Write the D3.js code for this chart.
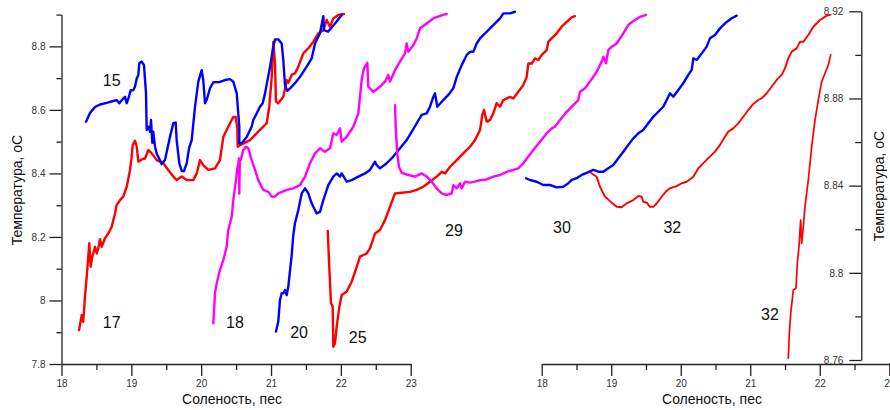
<!DOCTYPE html>
<html>
<head>
<meta charset="utf-8">
<script src="https://cdn.jsdelivr.net/npm/d3@7"></script>
<style>
  html, body { margin: 0; padding: 0; background: #fff; }
  svg { display: block; font-family: Arial, "Liberation Sans", sans-serif; }
  .tick text { fill: #333; font-size: 10px; }
  .tick line, .domain { stroke: #222; stroke-width: 1.3; }
</style>
</head>
<body>
<svg id="chart" width="890" height="410"></svg>
<script>
// T-S profiles, salinity (psu) vs temperature (°C), pairs [S, T]

// left panel profiles
const st15 = [[18.351,8.563],[18.408,8.590],[18.480,8.609],[18.551,8.617],[18.647,8.622],[18.742,8.628],[18.790,8.631],[18.828,8.621],[18.866,8.631],[18.909,8.641],[18.934,8.621],[18.959,8.637],[18.991,8.662],[19.028,8.662],[19.052,8.673],[19.077,8.699],[19.100,8.710],[19.114,8.747],[19.148,8.752],[19.181,8.741],[19.210,8.653],[19.220,8.537],[19.249,8.547],[19.267,8.531],[19.282,8.568],[19.300,8.496],[19.314,8.531],[19.339,8.484],[19.363,8.463],[19.435,8.430],[19.482,8.442],[19.553,8.515],[19.601,8.558],[19.635,8.560],[19.649,8.505],[19.687,8.432],[19.721,8.408],[19.754,8.407],[19.793,8.432],[19.826,8.479],[19.864,8.505],[19.912,8.610],[19.959,8.689],[20.007,8.725],[20.030,8.694],[20.055,8.621],[20.079,8.631],[20.126,8.668],[20.174,8.687],[20.269,8.688],[20.341,8.694],[20.413,8.697],[20.460,8.689],[20.509,8.652],[20.546,8.547],[20.546,8.495],[20.580,8.495],[20.652,8.515],[20.723,8.547],[20.746,8.568],[20.795,8.589],[20.842,8.610],[20.881,8.621],[20.914,8.652],[20.986,8.736],[21.033,8.799],[21.057,8.822],[21.104,8.822],[21.153,8.809],[21.176,8.757],[21.200,8.678],[21.233,8.660],[21.272,8.668],[21.343,8.684],[21.415,8.704],[21.511,8.736],[21.582,8.762],[21.630,8.809],[21.701,8.841],[21.749,8.895],[21.759,8.851],[21.816,8.846],[21.916,8.872],[22.012,8.899]];

const st17 = [[18.251,7.907],[18.265,7.923],[18.289,7.954],[18.312,7.933],[18.336,8.012],[18.369,8.096],[18.398,8.180],[18.418,8.106],[18.437,8.134],[18.455,8.148],[18.480,8.169],[18.504,8.148],[18.527,8.164],[18.551,8.193],[18.576,8.169],[18.623,8.196],[18.670,8.211],[18.719,8.232],[18.766,8.274],[18.790,8.300],[18.838,8.316],[18.885,8.327],[18.934,8.358],[18.981,8.411],[19.005,8.453],[19.019,8.489],[19.052,8.503],[19.077,8.484],[19.100,8.437],[19.148,8.444],[19.196,8.447],[19.243,8.474],[19.292,8.463],[19.363,8.442],[19.458,8.432],[19.529,8.411],[19.601,8.390],[19.649,8.379],[19.721,8.390],[19.793,8.379],[19.887,8.379],[19.936,8.400],[19.983,8.442],[20.030,8.426],[20.102,8.411],[20.198,8.416],[20.269,8.442],[20.317,8.515],[20.388,8.547],[20.460,8.578],[20.494,8.578],[20.517,8.542],[20.523,8.484],[20.556,8.489],[20.699,8.505],[20.842,8.537],[20.938,8.558],[20.975,8.610],[21.010,8.704],[21.033,8.814],[21.057,8.747],[21.071,8.626],[21.104,8.621],[21.176,8.641],[21.225,8.694],[21.247,8.685],[21.296,8.710],[21.343,8.715],[21.391,8.736],[21.462,8.778],[21.534,8.794],[21.605,8.814],[21.677,8.841],[21.749,8.851],[21.797,8.883],[21.845,8.862],[21.892,8.888],[21.963,8.899],[22.045,8.902]];

const st18 = [[20.174,7.928],[20.198,8.023],[20.222,8.054],[20.269,8.096],[20.317,8.127],[20.365,8.169],[20.388,8.222],[20.437,8.264],[20.460,8.316],[20.499,8.379],[20.517,8.416],[20.532,8.432],[20.542,8.447],[20.546,8.337],[20.553,8.442],[20.566,8.442],[20.603,8.474],[20.642,8.484],[20.675,8.479],[20.723,8.442],[20.771,8.411],[20.818,8.379],[20.889,8.348],[20.961,8.342],[21.010,8.327],[21.057,8.327],[21.104,8.337],[21.225,8.348],[21.319,8.353],[21.415,8.363],[21.487,8.390],[21.558,8.432],[21.630,8.463],[21.701,8.479],[21.773,8.468],[21.845,8.479],[21.892,8.526],[21.940,8.521],[21.988,8.542],[22.012,8.500],[22.084,8.515],[22.178,8.547],[22.250,8.589],[22.298,8.694],[22.331,8.731],[22.379,8.748],[22.393,8.673],[22.465,8.657],[22.560,8.673],[22.632,8.689],[22.679,8.710],[22.704,8.689],[22.775,8.725],[22.847,8.752],[22.918,8.778],[22.943,8.809],[22.966,8.783],[23.037,8.804],[23.086,8.825],[23.133,8.857],[23.229,8.872],[23.324,8.888],[23.420,8.896],[23.515,8.902]];

const st20 = [[21.071,7.902],[21.104,7.933],[21.128,8.001],[21.153,8.023],[21.176,8.023],[21.200,8.033],[21.225,8.017],[21.247,8.043],[21.296,8.143],[21.319,8.206],[21.343,8.243],[21.391,8.285],[21.439,8.337],[21.487,8.353],[21.534,8.337],[21.582,8.306],[21.654,8.274],[21.701,8.279],[21.749,8.316],[21.820,8.363],[21.892,8.390],[21.940,8.400],[21.988,8.390],[22.012,8.400],[22.084,8.374],[22.155,8.379],[22.250,8.390],[22.346,8.400],[22.417,8.411],[22.489,8.437],[22.513,8.426],[22.560,8.416],[22.656,8.432],[22.751,8.453],[22.847,8.479],[22.943,8.505],[23.014,8.531],[23.086,8.558],[23.157,8.584],[23.229,8.589],[23.276,8.610],[23.324,8.641],[23.348,8.652],[23.381,8.610],[23.467,8.631],[23.538,8.647],[23.610,8.668],[23.659,8.704],[23.730,8.741],[23.802,8.773],[23.849,8.783],[23.897,8.783],[23.945,8.809],[23.993,8.825],[24.088,8.846],[24.183,8.867],[24.279,8.888],[24.327,8.904],[24.422,8.904],[24.493,8.909]];

const st25 = [[21.812,8.219],[21.834,8.106],[21.859,7.991],[21.883,7.980],[21.892,7.854],[21.916,7.865],[21.940,7.917],[21.978,7.980],[22.012,8.017],[22.084,8.028],[22.155,8.059],[22.227,8.106],[22.274,8.138],[22.370,8.148],[22.417,8.164],[22.489,8.211],[22.560,8.222],[22.632,8.253],[22.704,8.295],[22.775,8.337],[22.871,8.339],[22.990,8.342],[23.086,8.348],[23.180,8.358],[23.276,8.374],[23.372,8.390],[23.444,8.405],[23.491,8.400],[23.563,8.421],[23.659,8.442],[23.753,8.463],[23.849,8.484],[23.921,8.505],[23.993,8.537],[24.025,8.584],[24.050,8.600],[24.088,8.563],[24.135,8.568],[24.183,8.589],[24.231,8.621],[24.279,8.610],[24.326,8.631],[24.422,8.641],[24.469,8.636],[24.541,8.657],[24.612,8.678],[24.661,8.704],[24.685,8.746],[24.733,8.746],[24.780,8.762],[24.827,8.757],[24.876,8.773],[24.947,8.788],[24.970,8.814],[25.019,8.825],[25.090,8.841],[25.162,8.862],[25.234,8.877],[25.305,8.891],[25.352,8.895]];

const st29 = [[22.775,8.615],[22.790,8.526],[22.808,8.463],[22.832,8.421],[22.871,8.402],[22.966,8.395],[23.062,8.390],[23.157,8.400],[23.229,8.390],[23.301,8.374],[23.372,8.353],[23.444,8.337],[23.515,8.332],[23.587,8.337],[23.610,8.363],[23.659,8.353],[23.706,8.369],[23.730,8.353],[23.778,8.374],[23.849,8.371],[23.921,8.374],[23.993,8.379],[24.088,8.381],[24.183,8.390],[24.279,8.395],[24.374,8.405],[24.469,8.411],[24.541,8.416],[24.612,8.432],[24.684,8.453],[24.755,8.474],[24.851,8.500],[24.947,8.526],[25.019,8.542],[25.066,8.547],[25.138,8.568],[25.234,8.594],[25.328,8.615],[25.400,8.631],[25.424,8.657],[25.496,8.668],[25.567,8.689],[25.663,8.720],[25.735,8.752],[25.759,8.767],[25.797,8.747],[25.829,8.788],[25.878,8.799],[25.950,8.809],[25.997,8.825],[26.044,8.841],[26.116,8.867],[26.140,8.872],[26.212,8.883],[26.284,8.893],[26.369,8.899]];

// right panel profiles
const st30 = [[17.774,8.8434],[17.832,8.8426],[17.928,8.8418],[18.023,8.8403],[18.119,8.8403],[18.216,8.8392],[18.311,8.8395],[18.383,8.8411],[18.432,8.8426],[18.503,8.8434],[18.575,8.8449],[18.647,8.8459],[18.742,8.8472],[18.814,8.8464],[18.886,8.8464],[18.958,8.8480],[19.030,8.8495],[19.102,8.8526],[19.174,8.8556],[19.246,8.8587],[19.318,8.8617],[19.390,8.8640],[19.461,8.8655],[19.533,8.8686],[19.605,8.8716],[19.677,8.8739],[19.749,8.8762],[19.798,8.8793],[19.846,8.8824],[19.893,8.8808],[19.965,8.8839],[20.037,8.8870],[20.109,8.8908],[20.158,8.8931],[20.181,8.8984],[20.230,8.8977],[20.302,8.9007],[20.373,8.9038],[20.421,8.9076],[20.493,8.9091],[20.565,8.9122],[20.637,8.9145],[20.733,8.9168],[20.805,8.9180]];

const st32a = [[18.705,8.8459],[18.791,8.8441],[18.839,8.8395],[18.911,8.8349],[19.007,8.8322],[19.079,8.8303],[19.151,8.8301],[19.223,8.8319],[19.318,8.8334],[19.390,8.8353],[19.438,8.8349],[19.461,8.8326],[19.510,8.8322],[19.558,8.8303],[19.605,8.8303],[19.654,8.8319],[19.726,8.8349],[19.798,8.8377],[19.846,8.8388],[19.942,8.8398],[20.014,8.8411],[20.086,8.8418],[20.181,8.8441],[20.253,8.8480],[20.325,8.8503],[20.396,8.8526],[20.493,8.8556],[20.565,8.8587],[20.637,8.8625],[20.684,8.8648],[20.756,8.8663],[20.828,8.8686],[20.900,8.8716],[20.972,8.8747],[21.044,8.8775],[21.116,8.8793],[21.165,8.8801],[21.236,8.8824],[21.308,8.8854],[21.380,8.8885],[21.452,8.8908],[21.499,8.8938],[21.547,8.8984],[21.596,8.9015],[21.668,8.9030],[21.715,8.9060],[21.763,8.9060],[21.835,8.9091],[21.907,8.9129],[22.003,8.9160],[22.100,8.9180],[22.147,8.9183]];

const st32b = [[21.547,8.7608],[21.562,8.7723],[21.582,8.7814],[21.619,8.7921],[21.658,8.7929],[21.677,8.8044],[21.701,8.8120],[21.725,8.8242],[21.740,8.8135],[21.763,8.8212],[21.787,8.8303],[21.835,8.8426],[21.884,8.8579],[21.931,8.8701],[21.979,8.8793],[22.028,8.8877],[22.075,8.8916],[22.123,8.8954],[22.157,8.9000]];

// station labels: [text, S, T, panel]
const stationLabels = [
  ["15", 18.719, 8.694, "L"], ["17", 18.719, 7.930, "L"], ["18", 20.484, 7.930, "L"],
  ["20", 21.401, 7.900, "L"], ["25", 22.241, 7.883, "L"], ["29", 23.620, 8.222, "L"],
  ["30", 18.292, 8.8209, "R"], ["32", 19.879, 8.8209, "R"], ["32", 21.284, 8.7810, "R"]
];

// axis ticks
const leftYMajor = [7.8, 8.0, 8.2, 8.4, 8.6, 8.8];
const leftYMinor = [7.9, 8.1, 8.3, 8.5, 8.7, 8.9];
const xMajor = [18, 19, 20, 21, 22, 23];
const xMinor = [18.5, 19.5, 20.5, 21.5, 22.5];
const rightYMajor = [8.76, 8.80, 8.84, 8.88, 8.92];
const rightYMinor = [8.78, 8.82, 8.86, 8.90];

const svg = d3.select("#chart");

const xL = d3.scaleLinear().domain([18, 23]).range([61.5, 410.7]);
const yL = d3.scaleLinear().domain([7.8, 8.9]).range([364, 14.6]);
const xR = d3.scaleLinear().domain([18, 23]).range([541.7, 889.3]);
const yR = d3.scaleLinear().domain([8.76, 8.92]).range([360, 11.3]);

const fmt = d3.format("~g");

function drawAxis(axis, tx, ty, cls) {
  const g = svg.append("g").attr("transform", `translate(${tx},${ty})`).call(axis);
  if (cls === "minor") { g.select(".domain").remove(); g.selectAll("text").remove(); }
  return g;
}

// left panel axes
drawAxis(d3.axisLeft(yL).tickValues(leftYMajor).tickSize(12).tickSizeOuter(0).tickPadding(4).tickFormat(fmt), 61.5, 0);
drawAxis(d3.axisLeft(yL).tickValues(leftYMinor).tickSize(5).tickFormat(""), 61.5, 0, "minor");
drawAxis(d3.axisBottom(xL).tickValues(xMajor).tickSize(12).tickSizeOuter(0).tickPadding(4).tickFormat(fmt), 0, 364);
drawAxis(d3.axisBottom(xL).tickValues(xMinor).tickSize(6).tickFormat(""), 0, 364, "minor");

// right panel axes
drawAxis(d3.axisBottom(xR).tickValues(xMajor).tickSize(12).tickSizeOuter(0).tickPadding(4).tickFormat(fmt), 0, 364);
drawAxis(d3.axisBottom(xR).tickValues(xMinor).tickSize(6).tickFormat(""), 0, 364, "minor");
svg.append("line").attr("x1", xR(23)).attr("x2", 890).attr("y1", 364).attr("y2", 364)
  .attr("stroke", "#222").attr("stroke-width", 1.3);
drawAxis(d3.axisLeft(yR).tickValues(rightYMajor).tickSize(12).tickSizeOuter(0).tickPadding(6).tickFormat(fmt), 861.3, 0);
drawAxis(d3.axisLeft(yR).tickValues(rightYMinor).tickSize(6).tickFormat(""), 861.3, 0, "minor");

// axis titles
const titleStyle = sel => sel.attr("font-size", 14).attr("fill", "#111").attr("text-anchor", "middle");
svg.append("text").attr("x", 232).attr("y", 404).text("Соленость, пес").call(titleStyle);
svg.append("text").attr("x", 712).attr("y", 404).text("Соленость, пес").call(titleStyle);
svg.append("text").attr("transform", "translate(22,190) rotate(-90)").text("Температура, оС").call(titleStyle);
svg.append("text").attr("transform", "translate(884,186) rotate(-90)").text("Температура, оС").call(titleStyle);

// profiles
const lineL = d3.line().x(d => xL(d[0])).y(d => yL(d[1]));
const lineR = d3.line().x(d => xR(d[0])).y(d => yR(d[1]));

const profiles = [
  { data: st17, color: "#ff0000", gen: lineL, w: 2.4 },
  { data: st15, color: "#0000ff", gen: lineL, w: 2.4 },
  { data: st18, color: "#ff00ff", gen: lineL, w: 2.4 },
  { data: st20, color: "#0000ff", gen: lineL, w: 2.4 },
  { data: st25, color: "#ff0000", gen: lineL, w: 2.4 },
  { data: st29, color: "#ff00ff", gen: lineL, w: 2.4 },
  { data: st30, color: "#0000ff", gen: lineR, w: 2.4 },
  { data: st32a, color: "#ff0000", gen: lineR, w: 1.9 },
  { data: st32b, color: "#ff0000", gen: lineR, w: 1.7 }
];

svg.append("g").selectAll("path").data(profiles).join("path")
  .attr("d", p => p.gen(p.data))
  .attr("fill", "none")
  .attr("stroke", p => p.color)
  .attr("stroke-width", p => p.w)
  .attr("stroke-linejoin", "round")
  .attr("stroke-linecap", "round");

// station numbers
svg.append("g").selectAll("text").data(stationLabels).join("text")
  .attr("x", d => d[3] === "L" ? xL(d[1]) : xR(d[1]))
  .attr("y", d => d[3] === "L" ? yL(d[2]) : yR(d[2]))
  .attr("dy", "0.35em")
  .attr("text-anchor", "middle")
  .attr("font-size", 16)
  .attr("fill", "#111")
  .text(d => d[0]);
</script>
</body>
</html>
